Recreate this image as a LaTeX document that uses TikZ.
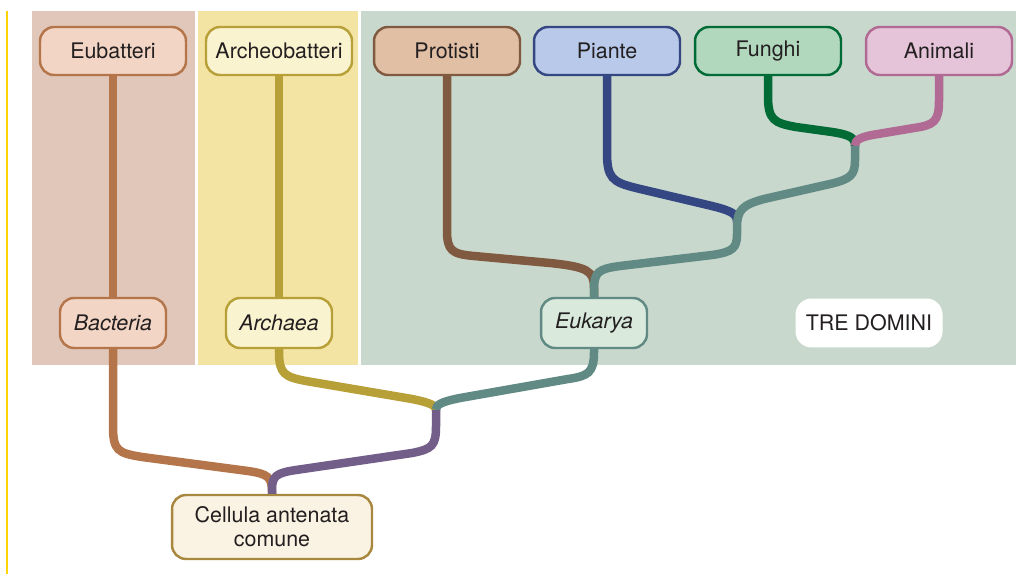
\documentclass[tikz,border=0pt]{standalone}
\usepackage{fontspec}
\setmainfont{TeX Gyre Heros}
% panel and line colours
\definecolor{panelbac}{HTML}{E1C7B9}
\definecolor{panelarc}{HTML}{F4E4A4}
\definecolor{paneleuk}{HTML}{C9D8CD}
\definecolor{sideline}{HTML}{FFD400}
\definecolor{fbac}{HTML}{F2D5C4}\definecolor{lbac}{HTML}{B5754B}
\definecolor{farc}{HTML}{FAF3CF}\definecolor{larc}{HTML}{B8A038}
\definecolor{fpro}{HTML}{E0BFA5}\definecolor{lpro}{HTML}{805A40}
\definecolor{fpia}{HTML}{B8C9E9}\definecolor{lpia}{HTML}{354782}
\definecolor{ffun}{HTML}{B1D8BD}\definecolor{lfun}{HTML}{006B35}
\definecolor{fani}{HTML}{E5C3D8}\definecolor{lani}{HTML}{B06A93}
\definecolor{feuk}{HTML}{D9EADC}\definecolor{leuk}{HTML}{618A84}
\definecolor{fcel}{HTML}{FAF2E2}\definecolor{lcel}{HTML}{A8883E}
\definecolor{lroot}{HTML}{735E89}
\definecolor{ink}{HTML}{231F20}
\tikzstyle{taxon}=[rounded corners=0.28cm, line width=1.4pt, minimum width=2.92cm, minimum height=0.96cm, inner sep=0pt, text=ink, font=\fontsize{12.2}{14}\selectfont]
\tikzstyle{domainbox}=[taxon, minimum width=2.12cm, minimum height=1.0cm, font=\fontsize{12.2}{14}\selectfont\itshape]
\tikzstyle{branch}=[line width=0.17cm, line cap=butt]

\begin{document}
\begin{tikzpicture}[x=0.02cm, y=-0.02cm]
\useasboundingbox (0,0) rectangle (1016,574);
    % Background panels of the three domains
    \fill[panelbac] (32,11) rectangle (195,365);
    \fill[panelarc] (198,11) rectangle (358,365);
    \fill[paneleuk] (361,11) rectangle (1016,365);
    \draw[sideline, line width=0.06cm] (7,11) -- (7,574);

    % First we draw the kingdoms
    \foreach \pos/\name/\label/\fc/\lc in {{(113,51)/eubatteri/Eubatteri/fbac/lbac}, {(279,51)/archeobatteri/Archeobatteri/farc/larc}, {(447,51)/protisti/Protisti/fpro/lpro}, {(607,51)/piante/Piante/fpia/lpia}, {(768,51)/funghi/Funghi/ffun/lfun}, {(939,51)/animali/Animali/fani/lani}}
            \node[taxon, fill=\fc, draw=\lc] (\name) at \pos {\label};

    % Then the domains
    \foreach \pos/\name/\label/\fc/\lc in {{(113,323)/bacteria/Bacteria/fbac/lbac}, {(279,323)/archaea/Archaea/farc/larc}, {(594,323)/eukarya/Eukarya/feuk/leuk}}
            \node[domainbox, fill=\fc, draw=\lc] (\name) at \pos {\label};
    \node[taxon, fill=white, draw=none, rounded corners=0.32cm, minimum width=2.94cm, minimum height=0.98cm] (domini) at (869,323) {TRE DOMINI};
    \node[taxon, fill=fcel, draw=lcel, minimum width=4cm, minimum height=1.28cm, align=center, font=\fontsize{12.2}{13.6}\selectfont] (cellula) at (272,527) {Cellula antenata\\comune};

    % Junctions
    \coordinate (j2) at (436,410);
    \coordinate (j4) at (737,222);
    \coordinate (j5) at (855,146);

    % Straight stems
    \draw[branch, lbac] (eubatteri.south) -- (bacteria.north);
    \draw[branch, larc] (archeobatteri.south) -- (archaea.north);

    % Lower tree
    \draw[branch, lbac] (bacteria.south) -- (113,426) .. controls (113,451) and (118,453) .. (142,457) -- (248,471) .. controls (268,474) and (272,477) .. (272,492) -- (cellula.north);
    \draw[branch, larc] (archaea.south) -- (279,352) .. controls (279,374) and (285,377) .. (306,381) -- (412,399) .. controls (432,403) and (436,406) .. (j2);
    \draw[branch, leuk] (eukarya.south) -- (594,352) .. controls (594,373) and (588,376) .. (568,379) -- (460,398) .. controls (440,402) and (436,405) .. (j2);
    \draw[branch, lroot] (cellula.north) -- (272,490) .. controls (272,476) and (276,473) .. (296,470) -- (412,453) .. controls (432,449) and (436,446) .. (436,426) -- (j2);

    % Eukaryote tree
    \draw[branch, lpro] (protisti.south) -- (447,230) .. controls (447,251) and (452,254) .. (474,256) -- (550,263) .. controls (588,267) and (594,271) .. (594,288) -- (eukarya.north);
    \draw[branch, lpia] (piante.south) -- (607,152) .. controls (607,178) and (612,182) .. (636,188) -- (712,206) .. controls (732,211) and (737,214) .. (j4);
    \draw[branch, lfun] (funghi.south) -- (768,96) .. controls (768,120) and (774,123) .. (796,127) -- (832,132) .. controls (851,135) and (855,138) .. (j5);
    \draw[branch, lani] (animali.south) -- (939,100) .. controls (939,122) and (934,125) .. (914,128) -- (878,134) .. controls (859,137) and (855,140) .. (j5);
    \draw[branch, leuk] (eukarya.north) -- (594,290) .. controls (594,272) and (598,269) .. (620,266) -- (712,255) .. controls (733,252) and (737,248) .. (737,234) -- (737,228) .. controls (737,210) and (742,205) .. (764,199) -- (830,184) .. controls (851,179) and (855,175) .. (855,160) -- (j5);
\end{tikzpicture}
\end{document}
